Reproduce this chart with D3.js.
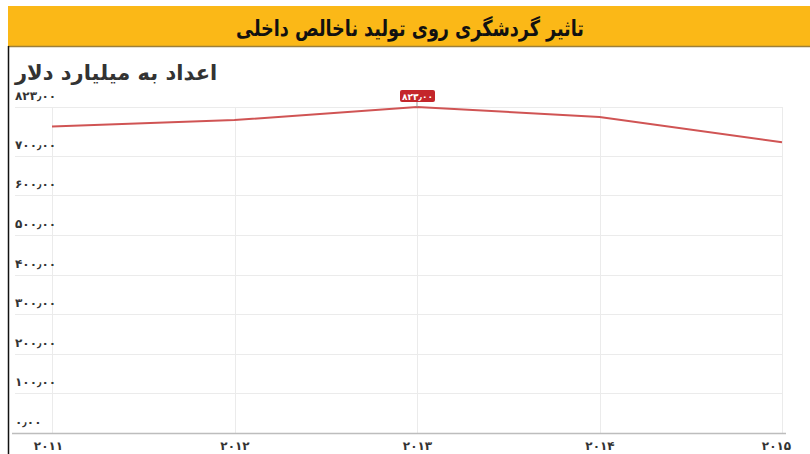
<!DOCTYPE html>
<html>
<head>
<meta charset="utf-8">
<script src="https://cdn.jsdelivr.net/npm/d3@7"></script>
<style>
  body { margin: 0; background: #fff; }
  svg { display: block; font-family: "DejaVu Sans", sans-serif; }
</style>
</head>
<body>
<svg width="810" height="454"></svg>
<script>
var years = ["2011", "2012", "2013", "2014", "2015"];
var gdp = [774, 790, 823, 798, 734];          // billion dollars
var yTicks = [0, 100, 200, 300, 400, 500, 600, 700, 823];
var titleText = "تاثیر گردشگری روی تولید ناخالص داخلی";
var subtitleText = "اعداد به میلیارد دلار";

var svg = d3.select("svg");

// persian digits + decimal sign
function fa(s) {
  return String(s).replace(/\./g, "٫").replace(/[0-9]/g, function (c) {
    return "۰۱۲۳۴۵۶۷۸۹"[+c];
  });
}
var fmt = function (v) { return fa(d3.format(".2f")(v)); };

// header band
svg.append("rect").attr("x", 8).attr("y", 6).attr("width", 802).attr("height", 40)
  .attr("fill", "#fbb817");
svg.append("line").attr("x1", 8).attr("x2", 810).attr("y1", 46.5).attr("y2", 46.5)
  .attr("stroke", "#9c7f3a").attr("stroke-width", 1.5);
svg.append("line").attr("x1", 8.5).attr("x2", 8.5).attr("y1", 46).attr("y2", 454)
  .attr("stroke", "#111").attr("stroke-width", 1.5);

// title is a bit condensed in the original
svg.append("text")
  .attr("transform", "translate(410,36) scale(0.8,1)")
  .attr("text-anchor", "middle")
  .attr("direction", "rtl")
  .attr("font-size", "22px").attr("font-weight", "bold")
  .attr("fill", "#111")
  .text(titleText);

svg.append("text")
  .attr("x", 15).attr("y", 80)
  .attr("text-anchor", "start")
  .attr("font-size", "21px").attr("font-weight", "bold")
  .attr("fill", "#333")
  .text(subtitleText);

var x = d3.scalePoint().domain(years).range([52, 782]);
var y = d3.scaleLinear().domain([0, 823]).range([433, 107]);

// horizontal grid
svg.append("g").selectAll("line")
  .data(yTicks.filter(function (d) { return d > 0; }))
  .enter().append("line")
  .attr("x1", 15).attr("x2", 782)
  .attr("y1", function (d) { return Math.round(y(d)) + 0.5; })
  .attr("y2", function (d) { return Math.round(y(d)) + 0.5; })
  .attr("stroke", "#ebebeb");

// vertical grid
svg.append("g").selectAll("line")
  .data(years)
  .enter().append("line")
  .attr("x1", function (d) { return Math.round(x(d)) + 0.5; })
  .attr("x2", function (d) { return Math.round(x(d)) + 0.5; })
  .attr("y1", 107).attr("y2", 433)
  .attr("stroke", "#ebebeb");

// y labels
svg.append("g").selectAll("text")
  .data(yTicks)
  .enter().append("text")
  .attr("x", 15)
  .attr("y", function (d) { return y(d) - 7; })
  .attr("font-size", "12px").attr("font-weight", "bold")
  .attr("fill", "#333")
  .attr("direction", "ltr")
  .text(function (d) { return fmt(d); });

// x axis
var xaxis = svg.append("g")
  .attr("transform", "translate(0,433)")
  .call(d3.axisBottom(x).tickSize(0).tickPadding(8).tickFormat(fa));
xaxis.select(".domain").remove();
xaxis.selectAll("text")
  .attr("font-size", "12px").attr("font-weight", "bold")
  .attr("fill", "#333").attr("font-family", "DejaVu Sans")
  .attr("dx", function (d, i) { return i === 0 ? -4 : (i === years.length - 1 ? -6 : 0); });
svg.append("line").attr("x1", 12).attr("x2", 786).attr("y1", 433.5).attr("y2", 433.5)
  .attr("stroke", "#bdbdbd").attr("stroke-width", 1.5);

// line
var line = d3.line()
  .x(function (d, i) { return x(years[i]); })
  .y(function (d) { return y(d); });

svg.append("path")
  .datum(gdp)
  .attr("d", line)
  .attr("fill", "none")
  .attr("stroke", "#d05454")
  .attr("stroke-width", 2);

// max value flag
var iMax = gdp.indexOf(d3.max(gdp));
var fx = x(years[iMax]), fy = y(gdp[iMax]);
var flag = svg.append("g");
flag.append("rect")
  .attr("x", fx - 17).attr("y", fy - 17)
  .attr("width", 35).attr("height", 12).attr("rx", 2)
  .attr("fill", "#c4262b");
flag.append("line")
  .attr("x1", fx).attr("x2", fx).attr("y1", fy - 5).attr("y2", fy)
  .attr("stroke", "#999");
flag.append("text")
  .attr("x", fx + 0.5).attr("y", fy - 7.5)
  .attr("text-anchor", "middle")
  .attr("font-size", "9px").attr("font-weight", "bold")
  .attr("fill", "#fff")
  .text(fmt(gdp[iMax]));
</script>
</body>
</html>
